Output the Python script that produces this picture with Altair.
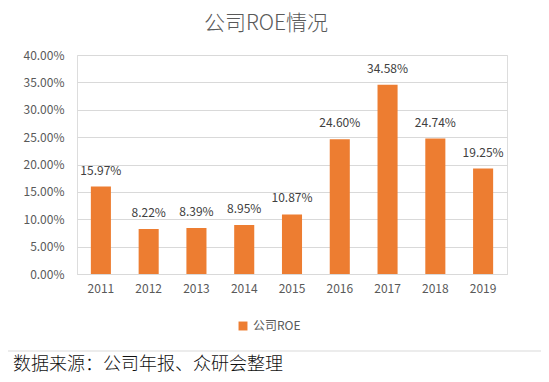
import altair as alt
import pandas as pd

years = ["2011", "2012", "2013", "2014", "2015", "2016", "2017", "2018", "2019"]
roe = [0.1597, 0.0822, 0.0839, 0.0895, 0.1087, 0.2460, 0.3458, 0.2474, 0.1925]
series_name = "公司ROE"
title_text = "公司ROE情况"
footer_text = "数据来源：公司年报、众研会整理"

df = pd.DataFrame({"year": years, "roe": roe, "series": [series_name] * len(years)})
FONT = "Noto Sans CJK SC"

base = alt.Chart(df).encode(
    x=alt.X("year:N", sort=years, title=None,
            scale=alt.Scale(paddingInner=0.58, paddingOuter=0.29),
            axis=alt.Axis(labelAngle=0, tickSize=0, labelPadding=9, labelFontSize=12,
                          labelColor="#595959", domainColor="#D9D9D9", labelFont=FONT)),
    y=alt.Y("roe:Q", title=None,
            scale=alt.Scale(domain=[0, 0.4]),
            axis=alt.Axis(values=[i * 0.05 for i in range(9)], format=".2%", tickSize=0,
                          labelPadding=13, labelFontSize=12, labelColor="#595959",
                          gridColor="#D9D9D9", domain=False, labelFont=FONT)),
)

bars = base.mark_bar(color="#ED7D31").encode(
    color=alt.Color("series:N", scale=alt.Scale(range=["#ED7D31"]),
                    legend=alt.Legend(title=None, orient="none", legendX=160, legendY=265,
                                      symbolType="square", symbolSize=80,
                                      labelFontSize=12, labelColor="#595959", labelFont=FONT))
)

labels = base.mark_text(baseline="bottom", dy=-9, fontSize=12, color="#404040", font=FONT).encode(
    text=alt.Text("roe:Q", format=".2%")
)

foot_df = pd.DataFrame({"t": [footer_text]})
footer = alt.Chart(foot_df).mark_text(align="left", baseline="middle", fontSize=18,
                                      color="#111111", font=FONT, fontWeight=300).encode(
    x=alt.value(-64), y=alt.value(310), text="t:N"
)
rule = alt.Chart(foot_df).mark_rule(color="#D9D9D9", strokeWidth=1).encode(
    x=alt.value(-69), x2=alt.value(464), y=alt.value(296)
)

chart = alt.layer(bars, labels, rule, footer).properties(
    width=430, height=219,
    title=alt.Title(title_text, fontSize=21, color="#595959", font=FONT, fontWeight=300,
                    anchor="middle", dx=-26, offset=15),
    autosize=alt.AutoSizeParams(type="none"),
    padding={"left": 69, "top": 47, "right": 34, "bottom": 108},
).configure_view(stroke=None).configure(background="white")

chart.save("out.html", embed_options={"renderer": "svg", "actions": False})
